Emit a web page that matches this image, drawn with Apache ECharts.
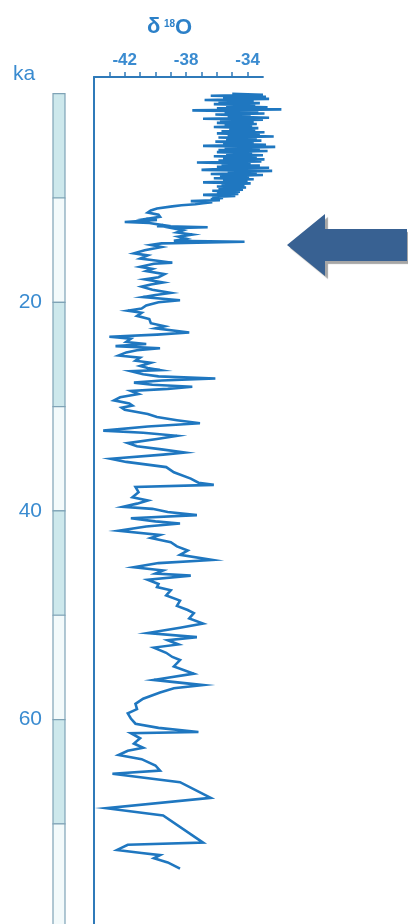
<!DOCTYPE html>
<html>
<head>
<meta charset="utf-8">
<script src="https://cdn.jsdelivr.net/npm/echarts@6/dist/echarts.min.js"></script>
<style>
  html, body { margin: 0; padding: 0; background: #ffffff; }
  #chart { width: 408px; height: 924px; }
</style>
</head>
<body>
<div id="chart"></div>
<script>
// Greenland ice-core oxygen isotope record, age (ka) against δ18O (‰)
const ageKa = [
  0.0, 0.1, 0.2, 0.3, 0.4, 0.5, 0.6, 0.7, 0.8, 0.9, 1.0, 1.1, 1.2, 1.3, 1.4, 1.5, 1.6, 1.7, 1.8, 1.9,
  2.0, 2.1, 2.2, 2.3, 2.4, 2.5, 2.6, 2.7, 2.8, 2.9, 3.0, 3.1, 3.2, 3.3, 3.4, 3.5, 3.6, 3.7, 3.8, 3.9,
  4.0, 4.1, 4.2, 4.3, 4.4, 4.5, 4.6, 4.7, 4.8, 4.9, 5.0, 5.1, 5.2, 5.3, 5.4, 5.5, 5.6, 5.7, 5.8, 5.9,
  6.0, 6.1, 6.2, 6.3, 6.4, 6.5, 6.6, 6.7, 6.8, 6.9, 7.0, 7.1, 7.2, 7.3, 7.4, 7.5, 7.6, 7.7, 7.8, 7.9,
  8.0, 8.1, 8.2, 8.3, 8.4, 8.5, 8.6, 8.7, 8.8, 8.9, 9.0, 9.1, 9.2, 9.3, 9.4, 9.5, 9.6, 9.7, 9.8, 9.9,
  10.0, 10.1, 10.2, 10.3, 10.4, 10.5, 10.6, 10.7, 10.8,
  11.0, 11.2, 11.4, 11.6, 11.8, 12.0, 12.1, 12.3, 12.4, 12.6, 12.7, 12.8,
  12.9, 13.1, 13.3, 13.5, 13.7, 13.9, 14.1, 14.2, 14.35, 14.5, 14.7, 15.0, 15.3, 15.5, 15.8, 16.0, 16.2, 16.3, 16.6, 16.8,
  17.0, 17.3, 17.6, 17.8, 18.1, 18.3, 18.5, 18.8, 19.1, 19.3, 19.5, 19.8, 20.0, 20.3, 20.6, 20.8, 21.0, 21.3, 21.6, 22.0,
  22.3, 22.5, 22.9, 23.1, 23.3, 23.5, 23.8, 24.0, 24.2, 24.4, 24.6, 24.8, 25.1, 25.3, 25.6, 25.8, 26.1, 26.3, 26.5, 26.6,
  26.9, 27.1, 27.3, 27.5, 27.7, 27.9, 28.1, 28.3, 28.5, 28.8, 29.1, 29.4, 29.7, 29.9, 30.1, 30.3, 30.7, 31.0, 31.3, 31.6,
  31.9, 32.3, 32.5, 32.8, 33.1, 33.5, 33.8, 34.1, 34.4, 34.6, 35.0, 35.3, 35.8, 36.3, 36.9, 37.3, 37.5, 37.7, 38.2, 38.7,
  39.0, 39.3, 39.6, 39.8, 40.1, 40.4, 40.7, 41.0, 41.2, 41.5, 41.9, 42.3, 42.6, 43.0, 43.4, 43.8, 44.2, 44.7, 45.0, 45.4,
  45.7, 46.0, 46.2, 46.6, 47.0, 47.3, 47.6, 48.1, 48.6, 49.1, 49.5, 49.8, 50.3, 50.8, 51.2, 51.7, 52.1, 52.4, 52.8, 53.1,
  53.6, 54.0, 54.3, 54.9, 55.6, 56.0, 56.2, 56.7, 57.0, 57.4, 58.0, 58.5, 59.0, 59.4, 59.9, 60.4, 60.8, 61.2, 61.3, 61.8,
  62.3, 62.7, 63.0, 63.4, 63.8, 64.4, 64.9, 65.2, 66.0, 67.5, 68.5, 69.2, 71.8, 72.0, 72.5, 72.8, 73.0, 73.3, 73.7, 74.3
];
const d18O = [
  -35.0, -33.0, -36.4, -32.8, -35.6, -32.6, -36.8, -33.6, -35.9, -33.2, -36.2, -33.5, -35.4, -32.7, -36.0, -31.8, -37.6, -33.3, -35.5, -32.9,
  -36.1, -33.8, -35.3, -32.6, -36.9, -33.0, -35.8, -33.6, -36.0, -33.4, -35.5, -33.7, -36.2, -33.3, -35.2, -33.5, -35.7, -32.9, -36.0, -33.2,
  -35.3, -32.3, -35.9, -33.4, -35.4, -33.1, -36.1, -33.6, -35.6, -32.8, -36.9, -32.2, -35.5, -33.2, -35.9, -32.7, -36.0, -33.7, -35.4, -33.0,
  -36.2, -33.4, -35.6, -32.9, -35.9, -33.1, -37.3, -33.8, -35.7, -33.2, -36.0, -32.6, -35.5, -37.0, -32.4, -35.3, -33.4, -36.4, -33.0, -35.8,
  -33.9, -36.2, -33.6, -35.6, -34.0, -36.9, -33.8, -35.7, -34.2, -36.0, -34.1, -35.9, -34.3, -36.3, -34.5, -36.0, -34.6, -36.9, -34.8, -36.3,
  -35.6, -36.4, -35.8, -37.7, -36.3, -36.9, -37.4, -38.3, -38.9,
  -39.9, -40.3, -40.5, -39.8, -39.7, -40.6, -39.9, -42.0, -40.4, -39.5, -39.9, -36.6,
  -38.9, -38.2, -38.6, -37.6, -38.5, -38.0, -38.8, -34.2, -39.6, -40.3, -39.6, -40.7, -41.4, -40.5, -41.0, -40.0, -38.9, -40.1, -41.0, -40.2,
  -40.6, -39.4, -39.8, -40.7, -39.5, -40.3, -40.9, -40.2, -39.0, -40.0, -40.8, -38.4, -39.8, -40.6, -40.9, -41.8, -40.9, -41.2, -40.4, -40.3,
  -39.4, -40.0, -37.8, -39.9, -43.0, -41.6, -41.9, -40.6, -42.6, -39.7, -41.2, -41.9, -42.4, -41.0, -41.3, -40.3, -41.0, -40.5, -39.7, -41.6,
  -40.8, -39.8, -36.1, -39.6, -41.4, -40.2, -37.6, -39.2, -41.6, -41.1, -42.3, -42.7, -41.7, -41.5, -42.2, -42.0, -40.5, -39.9, -38.6, -37.1,
  -40.5, -43.4, -40.8, -38.6, -39.9, -41.8, -41.2, -39.6, -38.1, -39.5, -42.9, -41.9, -39.3, -38.8, -37.7, -37.2, -36.2, -41.3, -41.1, -41.5,
  -40.5, -41.2, -42.1, -40.2, -39.2, -37.3, -41.6, -40.0, -38.4, -40.6, -42.4, -39.7, -40.3, -39.0, -38.6, -37.9, -38.4, -36.3, -39.8, -41.4,
  -39.5, -40.0, -37.7, -40.5, -39.8, -39.9, -39.0, -39.3, -38.4, -38.6, -37.9, -37.5, -37.8, -36.9, -38.4, -40.5, -37.3, -39.2, -38.5, -40.1,
  -39.3, -38.9, -38.4, -38.8, -37.5, -39.2, -40.1, -36.9, -38.8, -39.7, -40.8, -41.3, -41.2, -41.8, -41.6, -41.3, -39.8, -37.2, -41.6, -41.0,
  -41.4, -40.8, -41.8, -42.4, -40.9, -40.0, -39.7, -42.8, -38.4, -36.4, -43.2, -39.5, -36.9, -41.8, -42.5, -40.9, -39.7, -40.1, -39.2, -38.4
];

// Axis ticks and labels
const xTickValues = [-43, -42, -41, -40, -39, -38, -37, -36, -35, -34];
const xLabelValues = [-42, -38, -34];
const yLabelValues = [20, 40, 60];

// Age scale stripe beside the axis: 10 ka blocks, alternately shaded
const stripeStart = [0, 10, 20, 30, 40, 50, 60, 70];
const stripeEnd   = [10, 20, 30, 40, 50, 60, 70, 80];
const stripeShade = [1, 0, 1, 0, 1, 0, 1, 0];

// Age the arrow points at (onset of the Bølling warming)
const ARROW_KA = 14.5;

const AGE_MIN = -1.6;
const AGE_MAX = 79.6;
const X_MIN = -44;
const X_AXIS_MAX = -33;   // end of the drawn top axis
const X_PLOT_MAX = -31;   // the curve's own area reaches a little further right

const PX_PER_UNIT = 15.36;
const BLUE_LINE = '#1f77c0';
const BLUE_AXIS = '#2f7ab9';
const BLUE_TEXT = '#3a8bd0';
const FONT = '"Liberation Sans", Arial, sans-serif';

const chart = echarts.init(document.getElementById('chart'), null, { renderer: 'canvas' });

const seriesData = ageKa.map((a, i) => [d18O[i], a]);
const stripeData = stripeStart.map((s, i) => [s, stripeEnd[i], stripeShade[i]]);

chart.setOption({
  animation: false,
  backgroundColor: '#ffffff',
  grid: [
    // axes frame
    { left: 94, top: 77, width: (X_AXIS_MAX - X_MIN) * PX_PER_UNIT, height: 847 },
    // age stripe
    { left: 53, top: 77, width: 12, height: 847 },
    // curve area, same scale as the frame but wider
    { left: 94, top: 77, width: (X_PLOT_MAX - X_MIN) * PX_PER_UNIT, height: 847 }
  ],
  xAxis: [
    {
      gridIndex: 0,
      type: 'value',
      position: 'top',
      min: X_MIN,
      max: X_AXIS_MAX,
      interval: 1,
      axisLine: { show: true, onZero: false, lineStyle: { color: BLUE_AXIS, width: 2 } },
      axisTick: { show: true, customValues: xTickValues, length: 5, inside: false,
                  lineStyle: { color: BLUE_AXIS, width: 1.5 } },
      axisLabel: { customValues: xLabelValues, margin: 8, color: BLUE_TEXT,
                   fontSize: 17, fontWeight: 'bold', fontFamily: FONT },
      splitLine: { show: false }
    },
    { gridIndex: 1, type: 'value', min: 0, max: 1, show: false },
    { gridIndex: 2, type: 'value', min: X_MIN, max: X_PLOT_MAX, show: false }
  ],
  yAxis: [
    {
      gridIndex: 0,
      type: 'value',
      inverse: true,
      min: AGE_MIN,
      max: AGE_MAX,
      axisLine: { show: true, onZero: false, lineStyle: { color: BLUE_AXIS, width: 2 } },
      axisTick: { show: false },
      axisLabel: { customValues: yLabelValues, margin: 52, color: BLUE_TEXT,
                   fontSize: 21, fontFamily: FONT },
      splitLine: { show: false }
    },
    { gridIndex: 1, type: 'value', inverse: true, min: AGE_MIN, max: AGE_MAX, show: false },
    { gridIndex: 2, type: 'value', inverse: true, min: AGE_MIN, max: AGE_MAX, show: false }
  ],
  series: [
    {
      type: 'custom',
      xAxisIndex: 1,
      yAxisIndex: 1,
      data: stripeData,
      renderItem: function (params, api) {
        const p0 = api.coord([0, api.value(0)]);
        const p1 = api.coord([1, api.value(1)]);
        return {
          type: 'rect',
          shape: { x: p0[0], y: p0[1], width: p1[0] - p0[0], height: p1[1] - p0[1] },
          style: {
            fill: api.value(2) ? '#cde8ec' : '#f3fafb',
            stroke: '#7fa3b6',
            lineWidth: 1.2
          }
        };
      }
    },
    {
      type: 'line',
      xAxisIndex: 2,
      yAxisIndex: 2,
      data: seriesData,
      showSymbol: false,
      lineStyle: { color: BLUE_LINE, width: 2.6, join: 'miter' },
      z: 3
    }
  ]
});

// Title, unit label and the pointer arrow
const arrowY = chart.convertToPixel({ yAxisIndex: 0 }, ARROW_KA);
const tipX = 287;
chart.setOption({
  graphic: [
    { type: 'text', left: 147, top: 16,
      style: { text: 'δ', fill: '#2c80c8', font: 'bold 22px ' + FONT } },
    { type: 'text', left: 164, top: 19,
      style: { text: '18', fill: '#2c80c8', font: 'bold 10px ' + FONT } },
    { type: 'text', left: 175, top: 17,
      style: { text: 'O', fill: '#2c80c8', font: 'bold 22px ' + FONT } },
    { type: 'text', left: 13, top: 64,
      style: { text: 'ka', fill: BLUE_TEXT, font: '21px ' + FONT } },
    {
      type: 'polygon',
      x: tipX,
      y: arrowY,
      shape: { points: [[0, 0], [38, -31], [38, -16], [120, -16], [120, 16], [38, 16], [38, 31]] },
      style: {
        fill: '#386192',
        shadowColor: 'rgba(0,0,0,0.35)',
        shadowOffsetX: 3,
        shadowOffsetY: 3,
        shadowBlur: 1
      }
    }
  ]
});
</script>
</body>
</html>
